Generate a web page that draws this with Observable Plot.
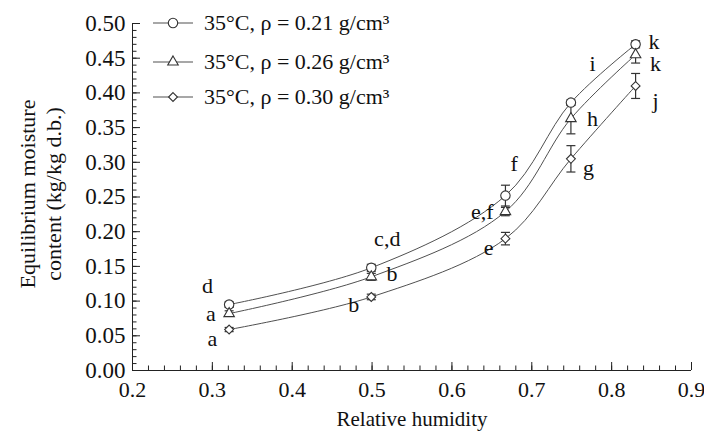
<!DOCTYPE html>
<html><head><meta charset="utf-8">
<script src="https://cdn.jsdelivr.net/npm/d3@7"></script>
<script src="https://cdn.jsdelivr.net/npm/@observablehq/plot@0.6"></script>
<style>
body{margin:0;background:#fff;}
#wrap{position:relative;width:704px;height:433px;font-family:"Liberation Serif","Times New Roman",serif;}
#wrap svg.plot{position:absolute;left:0;top:0;}
.row{position:absolute;left:152px;height:26px;display:flex;align-items:center;white-space:nowrap;font-size:22px;color:#111;}
.row svg{margin-right:10px;}
</style></head><body><div id="wrap"></div>
<script>
// Relative humidity of the salt solutions
const rh = [0.321, 0.499, 0.667, 0.749, 0.830];
const seriesNames = ["35°C, ρ = 0.21 g/cm³", "35°C, ρ = 0.26 g/cm³", "35°C, ρ = 0.30 g/cm³"];
const seriesSymbols = ["circle", "triangle", "diamond2"];
const seriesR = [4.7, 3.9, 4.0];
// Equilibrium moisture content (kg/kg d.b.)
const emc021 = [0.095, 0.148, 0.252, 0.386, 0.470];
const emc026 = [0.082, 0.135, 0.229, 0.363, 0.455];
const emc030 = [0.059, 0.106, 0.190, 0.305, 0.410];
// standard deviations (error bars)
const sd021 = [0.004, 0.005, 0.015, 0.004, 0.005];
const sd026 = [0.004, 0.005, 0.006, 0.022, 0.012];
const sd030 = [0.003, 0.004, 0.009, 0.019, 0.018];
// significance letters and their anchor positions
const letters = ["d", "c,d", "f", "i", "k", "a", "b", "e,f", "h", "k", "a", "b", "e", "g", "j"];
const letterX = [0.294, 0.519, 0.678, 0.776, 0.853, 0.298, 0.525, 0.638, 0.776, 0.855, 0.300, 0.477, 0.646, 0.771, 0.855];
const letterY = [0.122, 0.189, 0.297, 0.442, 0.474, 0.081, 0.139, 0.229, 0.363, 0.441, 0.045, 0.095, 0.177, 0.292, 0.389];
// axis ticks
const xMajor = [0.2, 0.3, 0.4, 0.5, 0.6, 0.7, 0.8, 0.9];
const xMinor = d3.range(0.2, 0.9001, 0.02);
const yMajor = [0, 0.05, 0.10, 0.15, 0.20, 0.25, 0.30, 0.35, 0.40, 0.45, 0.50];
const yMinor = d3.range(0, 0.5001, 0.01);
const xTitle = "Relative humidity";
const yTitle = "Equilibrium moisture\ncontent (kg/kg d.b.)";

const emcs = [emc021, emc026, emc030];
const sds = [sd021, sd026, sd030];
const rows = [];
seriesNames.forEach((s, k) => rh.forEach((x, i) => rows.push({series: s, k, x, y: emcs[k][i], e: sds[k][i]})));
const letterRows = letters.map((t, i) => ({t, x: letterX[i], y: letterY[i]}));

const cap = {draw(ctx, size) { const w = Math.sqrt(size / Math.PI); ctx.moveTo(-w, 0); ctx.lineTo(w, 0); }};
const lineColor = "#505050";
const markColor = "#333";

const marks = [
  Plot.axisX(xMinor, {tickSize: -4.5, tickFormat: () => "", label: null, stroke: "#222"}),
  Plot.axisX(xMajor, {tickSize: -8, tickFormat: () => "", label: null, stroke: "#222"}),
  Plot.axisX(xMajor, {tickSize: 0, tickPadding: 11, tickFormat: d3.format(".1f"), label: null, fontSize: 22}),
  Plot.axisY(yMinor, {tickSize: -4.5, tickFormat: () => "", label: null, stroke: "#222"}),
  Plot.axisY(yMajor, {tickSize: -8, tickFormat: () => "", label: null, stroke: "#222"}),
  Plot.axisY(yMajor, {tickSize: 0, tickPadding: 7, tickFormat: d3.format(".2f"), label: null, fontSize: 23}),
  Plot.ruleY([0], {stroke: "#222"}),
  Plot.ruleX([0.2], {stroke: "#222"}),
  Plot.line(rows, {x: "x", y: "y", z: "series", curve: "catmull-rom", stroke: lineColor, strokeWidth: 1}),
  Plot.link(rows, {x1: "x", x2: "x", y1: d => d.y - d.e, y2: d => d.y + d.e, stroke: markColor, strokeWidth: 1.2}),
  Plot.dot(rows, {x: "x", y: d => d.y - d.e, symbol: cap, r: 4.5, stroke: markColor, strokeWidth: 1.2}),
  Plot.dot(rows, {x: "x", y: d => d.y + d.e, symbol: cap, r: 4.5, stroke: markColor, strokeWidth: 1.2}),
  ...seriesNames.map((s, k) => Plot.dot(rows.filter(d => d.k === k), {x: "x", y: "y", symbol: seriesSymbols[k], r: seriesR[k], fill: "white", stroke: markColor, strokeWidth: 1.1})),
  Plot.text(letterRows, {x: "x", y: "y", text: "t", fontSize: 22, fill: "#111"}),
  Plot.text([xTitle], {frameAnchor: "bottom", dy: 55, fontSize: 21, fill: "#111"}),
  Plot.text([yTitle], {frameAnchor: "left", textAnchor: "middle", rotate: -90, dx: -93, dy: -3, fontSize: 22, lineHeight: 1.2, fill: "#111"})
];

const chart = Plot.plot({
  width: 704, height: 433,
  marginLeft: 132, marginRight: 13, marginTop: 23, marginBottom: 63,
  x: {domain: [0.2, 0.9]},
  y: {domain: [0, 0.5]},
  style: {fontFamily: "'Liberation Serif', 'Times New Roman', serif", fontSize: "22px", color: "#111", background: "transparent"},
  marks
});
const wrap = document.getElementById("wrap");
wrap.appendChild(chart);

// legend
const legendTops = [10, 49, 84];
seriesNames.forEach((s, k) => {
  const row = document.createElement("div");
  row.className = "row";
  row.style.top = legendTops[k] + "px";
  const svg = d3.create("svg").attr("width", 42).attr("height", 20);
  svg.append("line").attr("x1", 1).attr("x2", 41).attr("y1", 10).attr("y2", 10).attr("stroke", lineColor).attr("stroke-width", 1.2);
  const symType = {circle: d3.symbolCircle, triangle: d3.symbolTriangle, diamond2: d3.symbolDiamond2}[seriesSymbols[k]];
  svg.append("path").attr("transform", "translate(21,10)")
    .attr("d", d3.symbol(symType, seriesR[k] * seriesR[k] * Math.PI)())
    .attr("fill", "white").attr("stroke", markColor).attr("stroke-width", 1.1);
  row.appendChild(svg.node());
  const span = document.createElement("span");
  span.textContent = s;
  row.appendChild(span);
  wrap.appendChild(row);
});
</script></body></html>
